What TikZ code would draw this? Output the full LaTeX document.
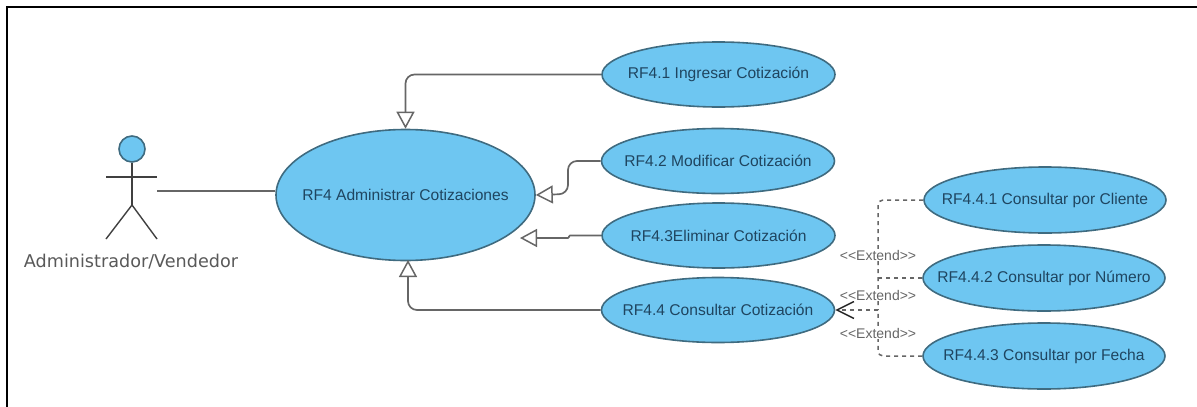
\documentclass[tikz,border=0pt]{standalone}
\usepackage{fontspec}
\setmainfont{Liberation Sans}
\newfontfamily\actorfont{DejaVu Sans}
\usetikzlibrary{arrows.meta,shapes.geometric}
\definecolor{ucfill}{HTML}{6EC6F1}
\definecolor{ucline}{HTML}{3F6B80}
\definecolor{uctext}{HTML}{1F4560}
\definecolor{linegray}{HTML}{666666}
\newcommand{\casename}[1]{\makebox[0pt]{#1}}
\tikzset{
    usecase/.style={ellipse, draw=ucline, fill=ucfill, line width=1.6pt, inner sep=0pt, text=uctext, font=\fontsize{15.6}{18}\selectfont},
    smallcase/.style={usecase, minimum width=233pt, minimum height=65pt},
    subcase/.style={usecase, minimum width=242pt, minimum height=66pt},
    inherit/.style={draw=linegray, line width=1.7pt, rounded corners=9pt, -{Triangle[open, length=17pt, width=18pt, line width=1.5pt]}},
    extendline/.style={draw=linegray, line width=1.5pt, dash pattern=on 4pt off 4pt, rounded corners=5pt},
    extendlabel/.style={fill=white, inner sep=0.5pt, text=linegray, font=\fontsize{14}{16}\selectfont},
    stick/.style={draw=black!75, line width=1.4pt}
}
\begin{document}
\begin{tikzpicture}[x=1pt, y=-1pt]
    \useasboundingbox (0,0) rectangle (1197,407);
    \draw[line width=2pt] (7,407) -- (7,6.5) -- (1197,6.5);

    \node[circle, draw=ucline, fill=ucfill, line width=1.6pt, minimum size=26pt, inner sep=0pt] (head) at (132,149) {};
    \coordinate (hip) at (132,205);
    \coordinate (hand) at (157,191);
    \draw[stick] (head.south) -- (hip);
    \draw[stick] (106,177) -- (157,177);
    \draw[stick] (106,239) -- (hip) -- (157,239);
    \node[text=black!65, font=\actorfont\fontsize{17.6}{20}\selectfont] (actorname) at (131,262) {Administrador/Vendedor};

    \node[usecase, minimum width=259pt, minimum height=131pt] (main) at (405.5,195) {\casename{RF4 Administrar Cotizaciones}};
    \node[smallcase] (uc1) at (718.5,74.5) {\casename{RF4.1 Ingresar Cotización}};
    \node[smallcase] (uc2) at (718,161) {\casename{RF4.2 Modificar Cotización}};
    \node[smallcase] (uc3) at (718.5,235.5) {\casename{RF4.3Eliminar Cotización}};
    \node[smallcase] (uc4) at (718,310) {\casename{RF4.4 Consultar Cotización}};
    \node[subcase] (uc41) at (1045,200) {\casename{RF4.4.1 Consultar por Cliente}};
    \node[subcase] (uc42) at (1044,278) {\casename{RF4.4.2 Consultar por Número}};
    \node[subcase] (uc43) at (1044,356) {\casename{RF4.4.3 Consultar por Fecha}};

    \draw[line width=1.7pt, draw=linegray] (hand) -- (main.west |- hand);

    \coordinate (free3) at (520,238);
    \coordinate (bend2) at (568,194);
    \coordinate (foot4) at (408,260);
    \draw[inherit] (uc1.west) -| (main.north);
    \draw[inherit] (uc2.west) -| (bend2) -- (main.east);
    \draw[inherit, rounded corners=1pt] (uc3.west) -- (569,235.5) -- (569,238) -- (free3);
    \draw[inherit] (uc4.west) -| (foot4);

    \coordinate (fork) at (878,310);
    \draw[extendline] (uc41.west) -| (fork);
    \draw[extendline] (uc42.west) -- (878,278);
    \draw[extendline] (uc43.west) -| (fork);
    \draw[extendline, -{Straight Barb[length=17pt, width=17pt, line width=1.5pt, black!85]}] (fork) -- (uc4.east);

    \node[extendlabel] (ext1) at (878,255) {<{}<Extend>{}>};
    \node[extendlabel] (ext2) at (878,295) {<{}<Extend>{}>};
    \node[extendlabel] (ext3) at (878,333) {<{}<Extend>{}>};
\end{tikzpicture}
\end{document}
